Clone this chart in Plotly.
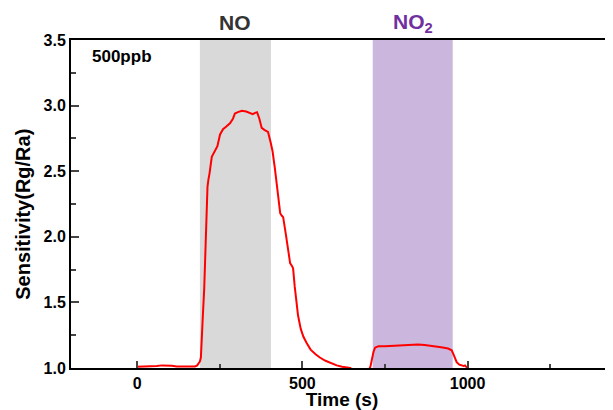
import plotly.graph_objects as go

# response curve
time_s = [0, 20, 40, 60, 75, 90, 105, 120, 140, 160, 175, 182, 187,
          190, 193, 196, 199, 203, 206, 209, 213, 216, 219, 226, 236, 243,
          251, 260, 270, 281, 290, 296, 305, 317, 330, 342, 350, 357, 363,
          370, 377, 385, 396, 404, 410, 417, 425, 433, 438, 442, 450, 457,
          463, 468, 472, 477, 482, 487, 495, 503, 513, 525, 540, 553, 570,
          587, 604, 620, 635, 645, 650,
          690, 703, 706, 710, 715, 720, 730, 750, 770, 795, 820, 850, 870,
          895, 920, 941, 952, 958, 963, 967, 975, 982, 988, 992, 996, 1001]
sensitivity = [1.01, 1.01, 1.012, 1.015, 1.02, 1.02, 1.018, 1.012, 1.01, 1.01, 1.012, 1.02, 1.035,
               1.05, 1.08, 1.2, 1.4, 1.6, 1.85, 2.1, 2.38, 2.44, 2.48, 2.61, 2.66, 2.69,
               2.78, 2.82, 2.84, 2.865, 2.9, 2.94, 2.95, 2.96, 2.955, 2.94, 2.935, 2.945, 2.95,
               2.9, 2.83, 2.815, 2.8, 2.72, 2.65, 2.52, 2.35, 2.18, 2.16, 2.15, 2.02, 1.9,
               1.8, 1.78, 1.76, 1.62, 1.5, 1.4, 1.3, 1.24, 1.19, 1.14, 1.105, 1.08, 1.055,
               1.035, 1.02, 1.01, 1.005, 1.0, 0.99,
               0.99, 0.995, 1.01, 1.06, 1.12, 1.155, 1.165, 1.165, 1.168, 1.17, 1.175, 1.18, 1.175,
               1.168, 1.158, 1.148, 1.135, 1.1, 1.07, 1.045, 1.025, 1.02, 1.015, 1.02, 1.01, 0.995]

# gas exposure windows (s)
no_window = [190, 405]
no2_window = [713, 955]

font = "Liberation Sans, Arial, sans-serif"

fig = go.Figure()
fig.add_trace(go.Scatter(x=time_s, y=sensitivity, mode="lines",
                         line=dict(color="#ff0000", width=2), showlegend=False))

fig.add_shape(type="rect", xref="x", yref="paper", x0=no_window[0], x1=no_window[1],
              y0=0, y1=1, fillcolor="#d9d9d9", line_width=0, layer="below")
fig.add_shape(type="rect", xref="x", yref="paper", x0=no2_window[0], x1=no2_window[1],
              y0=0, y1=1, fillcolor="#cbb6dd", line_width=0, layer="below")

fig.add_annotation(x=sum(no_window) / 2, y=1.053, xref="x", yref="paper", text="<b>NO</b>",
                   showarrow=False, yanchor="middle", font=dict(family=font, size=21, color="#333333"))
fig.add_annotation(x=sum(no2_window) / 2, y=1.053, xref="x", yref="paper", text="<b>NO<sub>2</sub></b>",
                   showarrow=False, yanchor="middle", font=dict(family=font, size=21, color="#7030a0"))
fig.add_annotation(x=0.035, y=0.951, xref="paper", yref="paper", text="<b>500ppb</b>",
                   showarrow=False, xanchor="left", yanchor="middle",
                   font=dict(family=font, size=17, color="#000000"))
# y title as annotation, sits a little below the plot's middle in the original
fig.add_annotation(x=-0.088, y=0.468, xref="paper", yref="paper", text="<b>Sensitivity(Rg/Ra)</b>",
                   showarrow=False, textangle=-90, xanchor="center", yanchor="middle",
                   font=dict(family=font, size=20, color="#000000"))

# the page body adds an 8px offset at the top left
fig.update_layout(
    width=613, height=402,
    margin=dict(l=63, r=8, t=32, b=42),
    plot_bgcolor="white", paper_bgcolor="white",
    font=dict(family=font, color="#000000"),
    xaxis=dict(
        range=[-200, 1440], tickvals=[0, 500, 1000], ticks="inside", ticklen=7, tickwidth=2,
        minor=dict(tickvals=[250, 750, 1250], ticks="inside", ticklen=4, tickwidth=2),
        showline=True, linecolor="black", linewidth=2, mirror=True,
        showgrid=False, zeroline=False, automargin=False,
        tickfont=dict(size=16, weight="bold"),
        title=dict(text="<b>Time (s)</b>", font=dict(size=19), standoff=2),
    ),
    yaxis=dict(
        range=[1.0, 3.5], dtick=0.5, tickformat=".1f", ticks="inside", ticklen=8, tickwidth=2,
        minor=dict(dtick=0.25, ticks="inside", ticklen=5, tickwidth=2),
        showline=True, linecolor="black", linewidth=2,
        showgrid=False, zeroline=False, automargin=False,
        tickfont=dict(size=16, weight="bold"),
    ),
    yaxis2=dict(
        range=[1.0, 3.5], dtick=0.5, overlaying="y", side="right", ticks="inside",
        ticklen=3, tickwidth=2, showticklabels=False, showline=False,
        showgrid=False, zeroline=False, automargin=False,
    ),
)

fig.write_html("out.html")
